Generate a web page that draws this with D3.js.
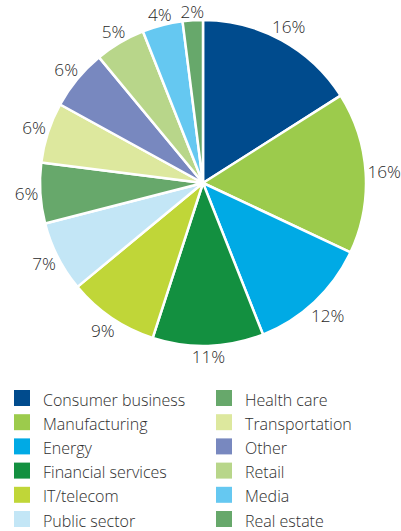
<!DOCTYPE html>
<html>
<head>
<meta charset="utf-8">
<script src="https://cdn.jsdelivr.net/npm/d3@7"></script>
<style>
  html, body { margin: 0; padding: 0; background: #fff; }
  svg { display: block; }
  text { font-family: "Open Sans", "DejaVu Sans", sans-serif; font-weight: 300; fill: #2a2a2a; }
</style>
</head>
<body>
<script>
// Sector share of the sample, in percent (clockwise from 12 o'clock)
const categories = [
  "Consumer business", "Manufacturing", "Energy", "Financial services",
  "IT/telecom", "Public sector", "Health care", "Transportation",
  "Other", "Retail", "Media", "Real estate"
];
const values = [16, 16, 12, 11, 9, 7, 6, 6, 6, 5, 4, 2];
const colors = [
  "#004b8d", "#9ccb4c", "#00aae5", "#139040",
  "#c0d638", "#c3e6f6", "#67a86b", "#dde89e",
  "#7888bf", "#b8d68a", "#65c8f1", "#67a86b"
];

const width = 401, height = 531;
const cx = 203, cy = 183, radius = 163;

const svg = d3.select("body").append("svg")
  .attr("width", width)
  .attr("height", height);

const data = categories.map((c, i) => ({ name: c, value: values[i], color: colors[i] }));

const pie = d3.pie().sort(null).value(d => d.value);
const arc = d3.arc().innerRadius(0).outerRadius(radius);
const arcs = pie(data);

const g = svg.append("g").attr("transform", `translate(${cx},${cy})`);

g.selectAll("path.slice")
  .data(arcs)
  .join("path")
  .attr("class", "slice")
  .attr("d", arc)
  .attr("fill", d => d.data.color)
  .attr("stroke", "#fff")
  .attr("stroke-width", 2.5)
  .attr("stroke-linejoin", "round");

// Percentage labels sit just outside the rim, pushed out by their own box size
const labelSize = 17.2;
g.selectAll("text.pct")
  .data(arcs)
  .join("text")
  .attr("class", "pct")
  .attr("font-size", labelSize)
  .attr("text-anchor", "middle")
  .text(d => d.data.value + "%")
  .each(function (d) {
    const node = d3.select(this);
    const w = this.getComputedTextLength();
    const h = labelSize * 0.72;
    const a = (d.startAngle + d.endAngle) / 2;
    const s = Math.sin(a), c = -Math.cos(a);
    const below = Math.max(0, c);
    const pad = 1.5 + 3 * below * below;
    const r = radius + pad + (w / 2) * Math.abs(s) + (h / 2) * Math.abs(c);
    node.attr("x", r * s).attr("y", r * c + h / 2);
  });

// Legend: two columns of six
const legendTop = 390, rowStep = 24.2, sw = 16;
const colX = [14, 216];
const legend = svg.append("g").attr("class", "legend");
const items = legend.selectAll("g.item")
  .data(data)
  .join("g")
  .attr("class", "item")
  .attr("transform", (d, i) => {
    const col = Math.floor(i / 6), row = i % 6;
    return `translate(${colX[col]},${legendTop + row * rowStep})`;
  });
items.append("rect")
  .attr("width", sw)
  .attr("height", sw)
  .attr("fill", d => d.color);
items.append("text")
  .attr("x", 29)
  .attr("y", 15.5)
  .attr("font-size", 16)
  .style("fill", "#2e2e2e")
  .text(d => d.name);
</script>
</body>
</html>
